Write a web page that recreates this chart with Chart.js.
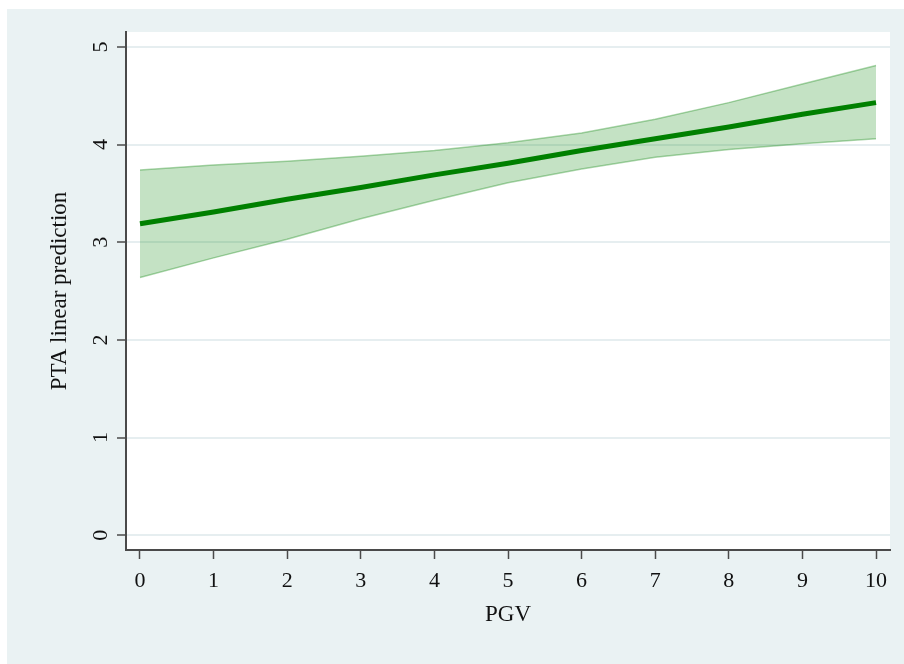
<!DOCTYPE html>
<html>
<head>
<meta charset="utf-8">
<script src="https://cdn.jsdelivr.net/npm/chart.js@4.4.1/dist/chart.umd.min.js"></script>
<style>
  html, body { margin: 0; padding: 0; background: #ffffff; }
  canvas { display: block; }
</style>
</head>
<body>
<canvas id="c" width="904" height="664"></canvas>
<script>
// ---- data ----
const pgv = [0, 1, 2, 3, 4, 5, 6, 7, 8, 9, 10];
const prediction = [3.19, 3.31, 3.44, 3.56, 3.69, 3.81, 3.94, 4.06, 4.18, 4.31, 4.43];
const upperCI = [3.74, 3.79, 3.83, 3.88, 3.94, 4.02, 4.12, 4.26, 4.43, 4.62, 4.81];
const lowerCI = [2.64, 2.84, 3.03, 3.24, 3.43, 3.61, 3.75, 3.87, 3.95, 4.01, 4.06];
const xTicks = [0, 1, 2, 3, 4, 5, 6, 7, 8, 9, 10];
const yTicks = [0, 1, 2, 3, 4, 5];
const xTitle = 'PGV';
const yTitle = 'PTA linear prediction';

const pts = (ys) => pgv.map((x, i) => ({ x: x, y: ys[i] }));

const SERIF = '"Liberation Serif", "Times New Roman", "DejaVu Serif", serif';
const AXIS = '#4a4a4a';
const BG = '#EAF2F3';

const bgPlugin = {
  id: 'bg',
  beforeDraw(chart) {
    const ctx = chart.ctx;
    const a = chart.chartArea;
    ctx.save();
    ctx.fillStyle = '#ffffff';
    ctx.fillRect(0, 0, chart.width, chart.height);
    ctx.fillStyle = BG;
    ctx.fillRect(7, 9, chart.width - 7, chart.height - 9);
    ctx.fillStyle = '#ffffff';
    ctx.fillRect(a.left, a.top, a.right - a.left, a.bottom - a.top);
    ctx.restore();
  }
};

new Chart(document.getElementById('c'), {
  type: 'line',
  data: {
    datasets: [
      {
        label: 'Prediction',
        data: pts(prediction),
        borderColor: '#008000',
        borderWidth: 5,
        pointRadius: 0,
        fill: false,
        tension: 0
      },
      {
        label: 'Upper',
        data: pts(upperCI),
        borderColor: 'rgba(0,128,0,0.33)',
        borderWidth: 1.5,
        backgroundColor: 'rgba(0,128,0,0.23)',
        pointRadius: 0,
        fill: '+1',
        tension: 0
      },
      {
        label: 'Lower',
        data: pts(lowerCI),
        borderColor: 'rgba(0,128,0,0.33)',
        borderWidth: 1.5,
        pointRadius: 0,
        fill: false,
        tension: 0
      }
    ]
  },
  options: {
    responsive: false,
    devicePixelRatio: 1,
    animation: false,
    layout: { padding: { left: 0, top: 32, right: 14, bottom: 0 } },
    plugins: {
      legend: { display: false },
      tooltip: { enabled: false }
    },
    scales: {
      x: {
        type: 'linear',
        min: -0.19,
        max: 10.19,
        afterBuildTicks(s) { s.ticks = xTicks.map(v => ({ value: v })); },
        afterFit(s) { s.height = 114; },
        grid: {
          display: true,
          drawOnChartArea: false,
          drawTicks: true,
          tickLength: 9,
          tickColor: AXIS,
          tickWidth: 1.5
        },
        border: { display: true, color: AXIS, width: 2 },
        ticks: {
          padding: 9,
          color: '#111',
          font: { family: SERIF, size: 22 },
          maxRotation: 0,
          minRotation: 0
        },
        title: {
          display: true,
          text: xTitle,
          color: '#111',
          font: { family: SERIF, size: 23 },
          padding: { top: 0, bottom: 35 }
        }
      },
      y: {
        type: 'linear',
        min: -0.151,
        max: 5.153,
        afterBuildTicks(s) { s.ticks = yTicks.map(v => ({ value: v })); },
        afterFit(s) { s.width = 126; },
        grid: {
          display: true,
          drawOnChartArea: true,
          color: '#E6EEF0',
          lineWidth: 2,
          drawTicks: true,
          tickLength: 9,
          tickColor: AXIS,
          tickWidth: 1.5
        },
        border: { display: true, color: AXIS, width: 2 },
        ticks: {
          padding: 10,
          color: '#111',
          font: { family: SERIF, size: 22 },
          minRotation: 90,
          maxRotation: 90,
          crossAlign: 'center'
        },
        title: {
          display: true,
          text: yTitle,
          color: '#111',
          font: { family: SERIF, size: 23 },
          padding: { top: 46, bottom: 0 }
        }
      }
    }
  },
  plugins: [bgPlugin]
});
</script>
</body>
</html>
